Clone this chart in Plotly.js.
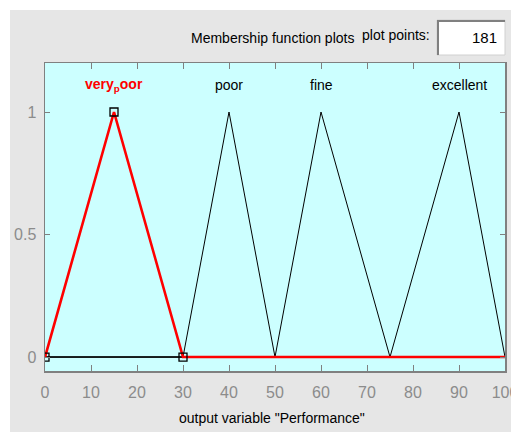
<!DOCTYPE html>
<html>
<head>
<meta charset="utf-8">
<script src="https://cdn.plot.ly/plotly-3.0.1.min.js"></script>
<style>
html,body{margin:0;padding:0;background:#fff;}
#chart{width:511px;height:432px;}
</style>
</head>
<body>
<div id="chart"></div>
<script>
// ---- data ----
var mfNames = ['very_poor', 'poor', 'fine', 'excellent'];
var mfLabels = ['very<sub>p</sub>oor', 'poor', 'fine', 'excellent'];
var mfParams = [[0, 15, 30], [30, 40, 50], [50, 60, 75], [75, 90, 100]];
var selectedIndex = 0;
var xRange = [0, 100];
var xTicks = [0, 10, 20, 30, 40, 50, 60, 70, 80, 90, 100];
var yTicks = [0, 0.5, 1];
var yTickLabels = ['0', '0.5', '1'];
var plotPoints = '181';
var xTitle = 'output variable "Performance"';

var FONT = '"Liberation Sans", Arial, sans-serif';

function mfLine(p) {
  return { x: [xRange[0], p[0], p[1], p[2], xRange[1]], y: [0, 0, 1, 0, 0] };
}

var traces = [];
mfParams.forEach(function (p, i) {
  if (i === selectedIndex) return;
  var l = mfLine(p);
  traces.push({ x: l.x, y: l.y, type: 'scatter', mode: 'lines', name: mfNames[i],
    line: { color: '#000000', width: 1 }, hoverinfo: 'skip' });
});
var sel = mfLine(mfParams[selectedIndex]);
traces.push({ x: sel.x, y: sel.y, type: 'scatter', mode: 'lines', name: mfNames[selectedIndex],
  line: { color: '#ff0000', width: 2.6 }, hoverinfo: 'skip' });
traces.push({ x: mfParams[selectedIndex], y: [0, 1, 0], type: 'scatter', mode: 'markers',
  marker: { symbol: 'square-open', size: 8, color: '#000000', line: { width: 1.3, color: '#000000' } },
  hoverinfo: 'skip' });

var annotations = mfParams.map(function (p, i) {
  var isSel = i === selectedIndex;
  return { x: p[1], y: 1.11, xref: 'x', yref: 'y', xanchor: 'center', yanchor: 'middle',
    text: isSel ? '<b>' + mfLabels[i] + '</b>' : mfLabels[i],
    showarrow: false, font: { family: FONT, size: 14, color: isSel ? '#ff0000' : '#000000' } };
});
function px(v) { return (v - 45) / 460; }
function py(v) { return (371 - v) / 308; }

annotations.push({ x: px(272), y: py(38), xref: 'paper', yref: 'paper', xanchor: 'center', yanchor: 'middle',
  text: 'Membership function plots', showarrow: false, font: { family: FONT, size: 14, color: '#000' } });
annotations.push({ x: px(396), y: py(35), xref: 'paper', yref: 'paper', xanchor: 'center', yanchor: 'middle',
  text: 'plot points:', showarrow: false, font: { family: FONT, size: 14, color: '#000' } });
annotations.push({ x: px(499), y: py(38), xref: 'paper', yref: 'paper', xanchor: 'right', yanchor: 'middle',
  text: plotPoints, showarrow: false, font: { family: FONT, size: 15, color: '#000' } });
annotations.push({ x: px(272), y: py(418), xref: 'paper', yref: 'paper', xanchor: 'center', yanchor: 'middle',
  text: xTitle, showarrow: false, font: { family: FONT, size: 14, color: '#000' } });

var shapes = [
  { type: 'rect', xref: 'paper', yref: 'paper', x0: px(0), x1: px(511), y0: py(10), y1: py(0),
    fillcolor: '#ffffff', line: { width: 0 }, layer: 'above' },
  { type: 'rect', xref: 'paper', yref: 'paper', x0: px(0), x1: px(10), y0: py(432), y1: py(0),
    fillcolor: '#ffffff', line: { width: 0 }, layer: 'above' },
  { type: 'rect', xref: 'paper', yref: 'paper', x0: px(437), x1: px(505), y0: py(55), y1: py(20),
    fillcolor: '#ffffff', line: { width: 1, color: '#d0d0d0' }, layer: 'above' },
  { type: 'line', xref: 'paper', yref: 'paper', x0: px(437), x1: px(505), y0: py(21), y1: py(21),
    line: { width: 2, color: '#808080' }, layer: 'above' },
  { type: 'line', xref: 'paper', yref: 'paper', x0: px(438), x1: px(438), y0: py(55), y1: py(20),
    line: { width: 2, color: '#808080' }, layer: 'above' }
];

var layout = {
  width: 511, height: 432,
  margin: { l: 45, r: 6, t: 63, b: 61 },
  paper_bgcolor: '#e6e6e6',
  plot_bgcolor: '#ccffff',
  showlegend: false,
  xaxis: { range: xRange, tickvals: xTicks, ticktext: xTicks.map(String), ticks: 'inside', ticklen: 6,
    tickcolor: '#808080', showline: true, linecolor: '#808080', linewidth: 1.5, mirror: 'ticks',
    showgrid: false, zeroline: false, fixedrange: true, ticklabelstandoff: 6, ticklabeloverflow: 'allow',
    tickfont: { family: FONT, size: 16, color: '#8c8c8c' } },
  yaxis: { range: [-0.057, 1.2], tickvals: yTicks, ticktext: yTickLabels, ticks: 'inside', ticklen: 5,
    tickcolor: '#808080', showline: true, linecolor: '#808080', linewidth: 1.5, mirror: 'ticks',
    showgrid: false, zeroline: false, fixedrange: true, ticklabelstandoff: 4, ticklabeloverflow: 'allow',
    tickfont: { family: FONT, size: 16, color: '#8c8c8c' } },
  annotations: annotations,
  shapes: shapes
};

Plotly.newPlot('chart', traces, layout, { displayModeBar: false, staticPlot: true });
</script>
</body>
</html>
